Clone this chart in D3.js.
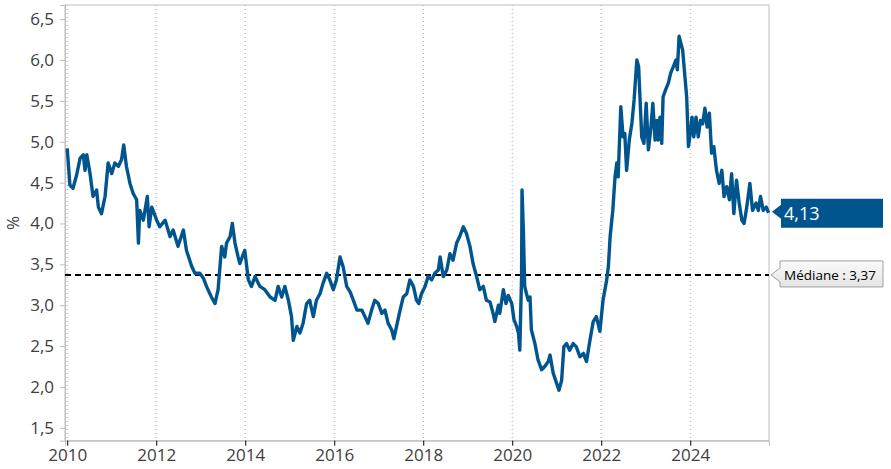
<!DOCTYPE html>
<html><head><meta charset="utf-8">
<script src="https://cdn.jsdelivr.net/npm/d3@7"></script>
<style>body{margin:0;background:#fff}svg{display:block;font-family:"Open Sans","Noto Sans",sans-serif}</style>
</head><body><svg id="c" width="891" height="469"></svg>
<script>
const years = [2010.00,2010.06,2010.13,2010.21,2010.29,2010.36,2010.40,2010.44,2010.51,2010.58,2010.66,2010.70,2010.77,2010.85,2010.92,2011.00,2011.07,2011.15,2011.22,2011.27,2011.33,2011.41,2011.48,2011.56,2011.60,2011.63,2011.71,2011.80,2011.84,2011.90,2012.01,2012.08,2012.20,2012.31,2012.38,2012.49,2012.61,2012.68,2012.80,2012.87,2012.98,2013.06,2013.13,2013.24,2013.32,2013.39,2013.47,2013.54,2013.58,2013.66,2013.71,2013.77,2013.84,2013.88,2013.96,2013.99,2014.07,2014.14,2014.22,2014.33,2014.44,2014.56,2014.67,2014.74,2014.82,2014.89,2014.97,2015.04,2015.08,2015.16,2015.23,2015.30,2015.38,2015.45,2015.53,2015.60,2015.68,2015.75,2015.83,2015.90,2015.98,2016.05,2016.13,2016.20,2016.28,2016.36,2016.43,2016.51,2016.62,2016.69,2016.76,2016.84,2016.91,2016.99,2017.07,2017.14,2017.21,2017.29,2017.34,2017.40,2017.48,2017.55,2017.63,2017.70,2017.78,2017.85,2017.90,2017.96,2018.04,2018.11,2018.19,2018.26,2018.34,2018.38,2018.45,2018.53,2018.60,2018.67,2018.75,2018.82,2018.90,2018.97,2019.05,2019.12,2019.20,2019.27,2019.35,2019.42,2019.50,2019.57,2019.61,2019.69,2019.72,2019.80,2019.86,2019.91,2019.99,2020.04,2020.10,2020.14,2020.17,2020.21,2020.22,2020.25,2020.28,2020.32,2020.36,2020.40,2020.43,2020.51,2020.58,2020.66,2020.73,2020.81,2020.85,2020.92,2021.00,2021.05,2021.11,2021.16,2021.22,2021.29,2021.37,2021.44,2021.52,2021.60,2021.67,2021.74,2021.82,2021.89,2021.97,2022.04,2022.12,2022.16,2022.20,2022.26,2022.31,2022.35,2022.38,2022.44,2022.49,2022.53,2022.57,2022.63,2022.69,2022.74,2022.80,2022.84,2022.87,2022.91,2022.96,2023.01,2023.06,2023.11,2023.16,2023.21,2023.25,2023.28,2023.32,2023.36,2023.39,2023.45,2023.51,2023.56,2023.62,2023.68,2023.71,2023.75,2023.83,2023.88,2023.92,2023.96,2024.01,2024.04,2024.08,2024.13,2024.18,2024.23,2024.28,2024.33,2024.38,2024.43,2024.48,2024.53,2024.59,2024.65,2024.71,2024.76,2024.82,2024.88,2024.93,2024.98,2025.04,2025.10,2025.16,2025.21,2025.27,2025.34,2025.40,2025.48,2025.53,2025.58,2025.64,2025.71,2025.76];
const rates = [4.92,4.47,4.43,4.59,4.80,4.84,4.65,4.84,4.62,4.33,4.41,4.20,4.12,4.33,4.74,4.61,4.74,4.70,4.78,4.96,4.70,4.49,4.37,4.29,3.76,4.16,4.04,4.33,3.96,4.20,4.04,3.96,4.04,3.84,3.92,3.72,3.92,3.67,3.47,3.39,3.39,3.33,3.23,3.10,3.02,3.19,3.72,3.59,3.76,3.84,4.00,3.76,3.59,3.51,3.63,3.67,3.31,3.23,3.35,3.23,3.19,3.10,3.06,3.23,3.10,3.23,3.06,2.86,2.57,2.74,2.66,2.78,3.02,3.06,2.86,3.06,3.14,3.27,3.39,3.31,3.19,3.31,3.59,3.47,3.23,3.16,3.06,2.94,2.94,2.86,2.78,2.94,3.06,3.02,2.90,2.94,2.78,2.70,2.59,2.74,2.94,3.10,3.14,3.31,3.23,3.06,3.02,3.14,3.23,3.35,3.31,3.39,3.43,3.59,3.35,3.43,3.63,3.55,3.76,3.84,3.96,3.88,3.72,3.51,3.35,3.19,3.23,3.06,3.04,2.90,2.80,3.00,2.90,3.19,3.02,3.12,3.02,2.82,2.74,2.66,2.45,3.35,4.41,3.92,3.23,3.14,3.06,3.10,2.70,2.53,2.33,2.21,2.25,2.31,2.39,2.17,2.04,1.96,2.08,2.49,2.53,2.45,2.53,2.49,2.37,2.41,2.31,2.55,2.80,2.86,2.68,3.06,3.30,3.47,3.84,4.16,4.57,4.74,4.57,5.43,5.06,5.10,4.65,5.02,5.23,5.52,6.00,5.92,5.55,5.06,4.98,5.47,4.90,5.14,5.47,5.02,5.26,5.02,5.30,4.98,5.55,5.64,5.72,5.84,5.92,6.00,5.88,6.29,6.12,5.80,5.55,4.94,5.14,5.30,5.06,5.30,5.06,5.26,5.22,5.41,5.18,5.35,4.86,4.94,4.65,4.49,4.65,4.33,4.45,4.29,4.61,4.12,4.53,4.25,4.04,4.00,4.20,4.49,4.16,4.25,4.16,4.33,4.16,4.20,4.13];
const yTicks = [1.5,2.0,2.5,3.0,3.5,4.0,4.5,5.0,5.5,6.0,6.5];
const xTicks = [2010,2012,2014,2016,2018,2020,2022,2024];
const median = 3.37;
const lastValue = 4.13;
const yLabel = "%";
const lastLabel = "4,13";
const medianLabel = "Médiane : 3,37";

const svg = d3.select("#c");
const L = 65, R = 769, T = 5, B = 440.7;
const x = d3.scaleLinear().domain([2009.95, 2025.77]).range([L, R]);
const y = d3.scaleLinear().domain([1.342, 6.673]).range([B, T]);
const fmt = v => d3.format(".1f")(v).replace(".", ",");

// vertical dotted grid
svg.append("g").selectAll("line").data(xTicks).join("line")
  .attr("x1", d => x(d)).attr("x2", d => x(d)).attr("y1", T).attr("y2", B)
  .attr("stroke", "#a6a6a6").attr("stroke-width", 1).attr("stroke-dasharray", "1,3");

// frame
svg.append("rect").attr("x", L).attr("y", T).attr("width", R - L).attr("height", B - T)
  .attr("fill", "none").attr("stroke", "#bfbfbf").attr("stroke-width", 1);

// y axis
const ya = svg.append("g").attr("transform", `translate(${L},0)`)
  .call(d3.axisLeft(y).tickValues(yTicks).tickFormat(fmt).tickSize(5).tickPadding(6));
ya.select(".domain").attr("stroke", "#bfbfbf");
ya.selectAll(".tick line").attr("stroke", "#bfbfbf");
ya.selectAll("text").attr("font-size", 17).attr("fill", "#404040").attr("font-family", "'Open Sans',sans-serif");

// x axis
const xa = svg.append("g").attr("transform", `translate(0,${B})`)
  .call(d3.axisBottom(x).tickValues(xTicks).tickFormat(d3.format("d")).tickSize(5).tickPadding(3));
xa.select(".domain").attr("stroke", "#bfbfbf");
xa.selectAll(".tick line").attr("stroke", "#000");
xa.selectAll("text").attr("font-size", 17).attr("fill", "#404040").attr("font-family", "'Open Sans',sans-serif");

// y label
svg.append("text").attr("transform", `translate(19,${(T + B) / 2}) rotate(-90)`)
  .attr("text-anchor", "middle").attr("font-size", 17).attr("fill", "#404040").text(yLabel);

// median line
svg.append("line").attr("x1", L).attr("x2", R).attr("y1", y(median)).attr("y2", y(median))
  .attr("stroke", "#000").attr("stroke-width", 2).attr("stroke-dasharray", "6,4");

// series
const data = years.map((d, i) => [d, rates[i]]);
svg.append("path").datum(data)
  .attr("d", d3.line().x(d => x(d[0])).y(d => y(d[1])))
  .attr("fill", "none").attr("stroke", "#00558f").attr("stroke-width", 3.4)
  .attr("stroke-linejoin", "round");

// last value label
const ly = y(lastValue);
const bx = 781, bw = 102;
svg.append("path")
  .attr("d", `M${R + 3},${ly - 1} L${bx},${ly - 8} L${bx},${ly - 14} L${bx + bw},${ly - 14} L${bx + bw},${ly + 15} L${bx},${ly + 15} L${bx},${ly + 6} Z`)
  .attr("fill", "#00558f");
svg.append("text").attr("x", bx + 3).attr("y", ly + 7).attr("font-size", 18).attr("fill", "#fff")
  .text(lastLabel);

// median label
const my = y(median);
const defs = svg.append("defs");
const g = defs.append("linearGradient").attr("id", "mg").attr("x1", 0).attr("x2", 0).attr("y1", 0).attr("y2", 1);
g.append("stop").attr("offset", "0%").attr("stop-color", "#fafafa");
g.append("stop").attr("offset", "100%").attr("stop-color", "#e4e4e4");
const mx = 780, mw = 103;
svg.append("path")
  .attr("d", `M${R + 2},${my} L${mx},${my - 7} L${mx},${my - 14} L${mx + mw},${my - 14} L${mx + mw},${my + 12} L${mx},${my + 12} L${mx},${my + 7} Z`)
  .attr("fill", "url(#mg)").attr("stroke", "#a0a0a0").attr("stroke-width", 1);
svg.append("text").attr("x", mx + 4).attr("y", my + 5).attr("font-size", 13.5).attr("fill", "#000")
  .text(medianLabel);
</script></body></html>
